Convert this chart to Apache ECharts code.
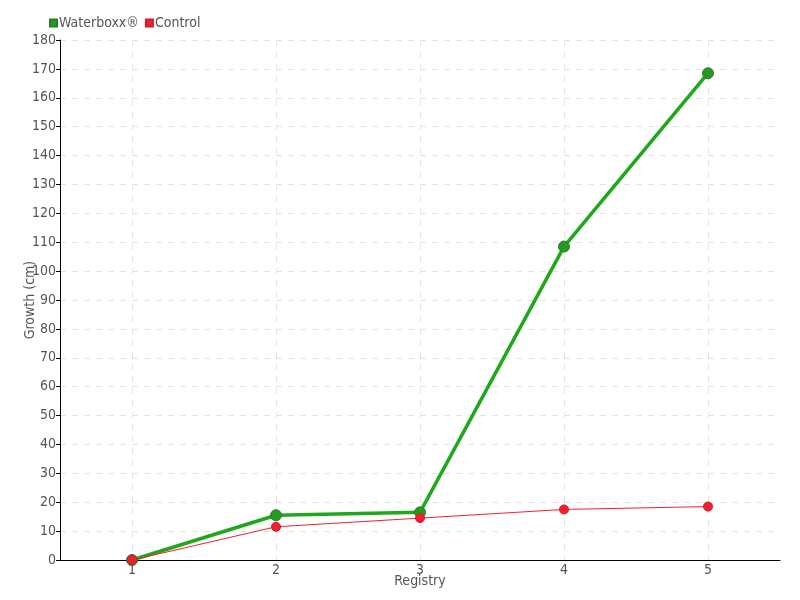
<!DOCTYPE html>
<html><head><meta charset="utf-8">
<script src="https://cdn.jsdelivr.net/npm/echarts@6/dist/echarts.min.js"></script>
<style>html,body{margin:0;padding:0;background:#fff}#c{width:800px;height:600px}</style>
</head><body><div id="c"></div>
<script>
const categories = ['1','2','3','4','5'];
const waterboxx = [0, 15.5, 16.5, 108.5, 168.5];
const control = [0, 11.5, 14.5, 17.5, 18.5];
const FONT = '"DejaVu Sans Condensed", "Liberation Sans Narrow", "DejaVu Sans", sans-serif';
const chart = echarts.init(document.getElementById('c'));
chart.setOption({
  animation: false,
  textStyle: {fontFamily: FONT},
  legend: {
    left: 44, top: 11, itemWidth: 7, itemHeight: 7, itemGap: 6,
    icon: 'rect',
    textStyle: {color: '#555', fontSize: 14, fontFamily: FONT, padding: [0,0,0,-3]},
    data: ['Waterboxx®', 'Control']
  },
  grid: {left: 60, right: 20, top: 40, bottom: 40},
  xAxis: {
    type: 'category', data: categories, boundaryGap: true,
    name: 'Registry', nameLocation: 'middle', nameGap: 14, nameMoveOverlap: false,
    nameTextStyle: {color: '#555', fontSize: 14, fontFamily: FONT},
    axisLine: {lineStyle: {color: '#000'}},
    axisTick: {alignWithLabel: true, length: 4, lineStyle: {color: '#000'}},
    axisLabel: {color: '#555', fontSize: 14, margin: 3, fontFamily: FONT},
    splitLine: {show: true, alignWithLabel: true, lineStyle: {color: '#e3e3e3', type: [6, 6]}}
  },
  yAxis: {
    type: 'value', min: 0, max: 180, interval: 10,
    name: 'Growth (cm)', nameLocation: 'middle', nameGap: 23, nameMoveOverlap: false,
    nameTextStyle: {color: '#555', fontSize: 14, fontFamily: FONT},
    axisLine: {show: true, lineStyle: {color: '#000'}},
    axisTick: {show: true, length: 4, lineStyle: {color: '#000'}},
    axisLabel: {color: '#555', fontSize: 14, margin: 4, fontFamily: FONT},
    splitLine: {show: true, lineStyle: {color: '#e3e3e3', type: [6, 6]}}
  },
  series: [
    {
      name: 'Waterboxx®', type: 'line', data: waterboxx,
      symbol: 'circle', symbolSize: 11, z: 2,
      lineStyle: {color: '#20a81c', width: 3.5},
      itemStyle: {color: '#259a22', borderColor: '#2b7d2b', borderWidth: 1}
    },
    {
      name: 'Control', type: 'line', data: control,
      symbol: 'circle', symbolSize: 9, z: 3,
      lineStyle: {color: '#f0202e', width: 1},
      itemStyle: {color: '#f0202e', borderColor: '#d81a28', borderWidth: 1}
    }
  ]
});
</script></body></html>
